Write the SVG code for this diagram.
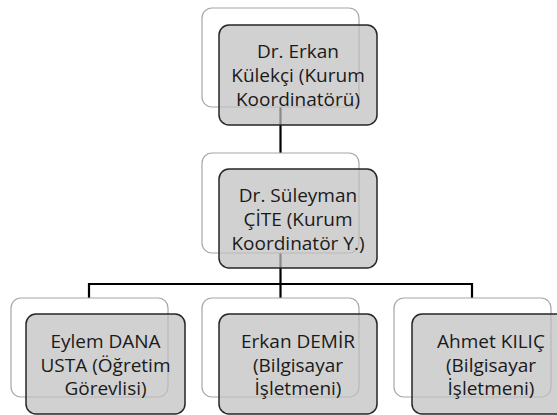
<svg xmlns="http://www.w3.org/2000/svg" width="557" height="415" viewBox="0 0 557 415">
<style>
.back{fill:#ffffff;stroke:#a6a6a6;stroke-width:1.2}
.front{fill:#bfbfbf;fill-opacity:0.72;stroke:#262626;stroke-width:1.5}
.conn{fill:none;stroke:#000000;stroke-width:2.2}
text{font-family:"Open Sans","Noto Sans","DejaVu Sans",sans-serif;font-size:19px;fill:#1a1a1a;text-anchor:middle}
</style>
<rect width="557" height="415" fill="#ffffff"/>
<g id="connectors">
<path class="conn" d="M280.5,107 V153"/>
<path class="conn" d="M280.5,253 V298"/>
<path class="conn" d="M89,298 V284 H472 V298"/>
</g>
<g id="node-erkan-kulekci">
<rect class="back" x="202" y="8" width="157" height="99" rx="10"/>
<rect class="front" x="219" y="25" width="158" height="100" rx="10"/>
<text x="298" y="58">Dr. Erkan</text>
<text x="298" y="82">Külekçi (Kurum</text>
<text x="298" y="106">Koordinatörü)</text>
</g>
<g id="node-suleyman-cite">
<rect class="back" x="202" y="153" width="157" height="100" rx="10"/>
<rect class="front" x="219" y="169" width="158" height="99" rx="10"/>
<text x="298" y="202">Dr. Süleyman</text>
<text x="298" y="226">ÇİTE (Kurum</text>
<text x="298" y="250">Koordinatör Y.)</text>
</g>
<g id="node-eylem-dana-usta">
<rect class="back" x="11" y="298" width="157" height="99" rx="10"/>
<rect class="front" x="26" y="314" width="159" height="100" rx="10"/>
<text x="105.5" y="348">Eylem DANA</text>
<text x="105.5" y="371.5">USTA (Öğretim</text>
<text x="105.5" y="395">Görevlisi)</text>
</g>
<g id="node-erkan-demir">
<rect class="back" x="202" y="298" width="157" height="99" rx="10"/>
<rect class="front" x="219" y="314" width="158" height="100" rx="10"/>
<text x="298" y="348">Erkan DEMİR</text>
<text x="298" y="371.5">(Bilgisayar</text>
<text x="298" y="395">İşletmeni)</text>
</g>
<g id="node-ahmet-kilic">
<rect class="back" x="394" y="298" width="157" height="99" rx="10"/>
<rect class="front" x="412" y="314" width="158" height="100" rx="10"/>
<text x="491" y="348">Ahmet KILIÇ</text>
<text x="491" y="371.5">(Bilgisayar</text>
<text x="491" y="395">İşletmeni)</text>
</g>
</svg>
